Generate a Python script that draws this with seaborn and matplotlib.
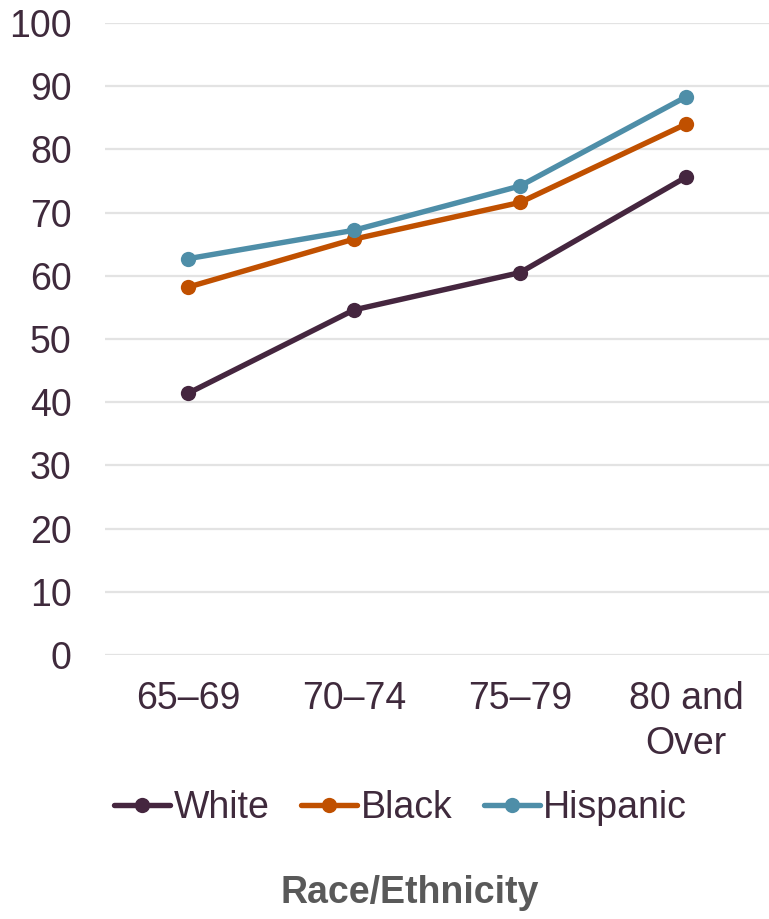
import matplotlib
matplotlib.use("Agg")
import matplotlib.pyplot as plt
import seaborn as sns
import pandas as pd

# Age groups and share by race/ethnicity
age_groups = ["65–69", "70–74", "75–79", "80 and\nOver"]
white = [41.4, 54.6, 60.5, 75.6]
black = [58.2, 65.8, 71.6, 84.0]
hispanic = [62.7, 67.2, 74.2, 88.3]
series_names = ["White", "Black", "Hispanic"]
y_ticks = [0, 10, 20, 30, 40, 50, 60, 70, 80, 90, 100]

colors = {"White": "#45263F", "Black": "#C05000", "Hispanic": "#4E8EA8"}
text_color = "#3F2A3C"

df = pd.DataFrame({
    "age": age_groups * 3,
    "value": white + black + hispanic,
    "group": [n for n in series_names for _ in age_groups],
})

sns.set_theme(style="white")
plt.rcParams["font.family"] = ["Liberation Sans", "DejaVu Sans"]

fs = 27

fig = plt.figure(figsize=(7.69, 9.19), dpi=100)
ax = fig.add_axes([0.1365, 0.2873, 0.8635, 0.6877])

sns.lineplot(data=df, x="age", y="value", hue="group", hue_order=series_names,
             palette=colors, marker="o", markersize=11, markeredgewidth=0,
             linewidth=3.9, sort=False, ax=ax)

ax.set_xlim(-0.5, 3.5)
ax.set_ylim(0, 100)
ax.set_yticks(y_ticks)
ax.grid(axis="y", color="#E3E3E3", linewidth=1.6)
ax.grid(axis="x", visible=False)
for s in ax.spines.values():
    s.set_visible(False)
ax.tick_params(axis="y", length=0, pad=24, labelsize=fs, labelcolor=text_color)
ax.tick_params(axis="x", length=0, pad=19, labelsize=fs, labelcolor=text_color)
for lbl in ax.get_xticklabels():
    lbl.set_linespacing(1.3)
ax.set_xlabel("")
ax.set_ylabel("")

handles, labels = ax.get_legend_handles_labels()
ax.get_legend().remove()
fig.legend(handles, labels, loc="center", bbox_to_anchor=(0.521, 0.121),
           ncol=3, frameon=False, fontsize=fs, handlelength=1.5,
           handletextpad=0.08, columnspacing=0.85, labelcolor=text_color)

fig.text(0.533, 0.028, "Race/Ethnicity", ha="center", va="center",
         fontsize=fs, fontweight="bold", color="#595959")

fig.savefig("out.png", dpi=100)
